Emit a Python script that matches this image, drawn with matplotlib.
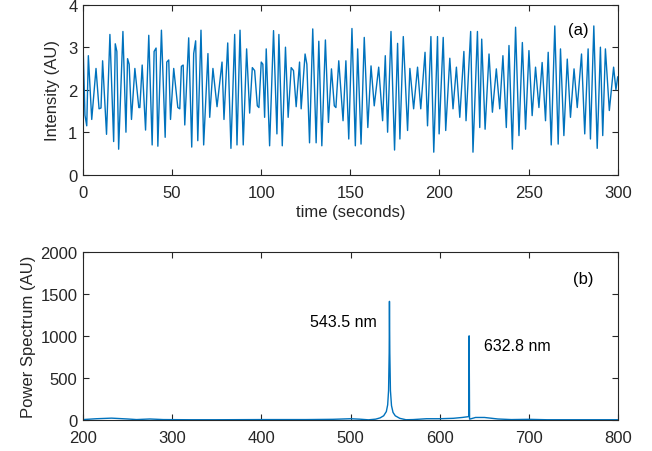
import matplotlib
matplotlib.use("Agg")
import matplotlib.pyplot as plt

plt.rcParams["font.family"] = ["Liberation Sans", "DejaVu Sans"]

BLUE = "#0072BD"
DARK = "#262626"

# --- panel (a): detector intensity vs time (extrema) ---
time_s = [0, 1.1, 2.1, 3.0, 4.9, 7.3, 9.0, 10.1, 11.0, 13.2, 15.1, 17.2, 18.1, 19.0,
          20.0, 22.4, 24.1, 25.0, 25.9, 27.2, 29.1, 31.3, 31.9, 33.2, 35.1, 36.9,
          38.8, 39.9, 41.0, 42.0, 44.0, 46.1, 47.0, 48.1, 49.1, 50.9, 53.2, 54.3,
          55.2, 56.2, 57.1, 59.3, 61.0, 62.1, 63.2, 64.4, 66.2, 67.7, 70.1, 71.1,
          72.9, 75.2, 78.0, 79.1, 81.2, 83.0, 85.1, 86.4, 88.1, 89.9, 91.8, 93.5,
          95.0, 96.3, 97.8, 98.7, 100.0, 100.9, 101.9, 102.8, 104.7, 106.9, 108.8,
          109.9, 111.8, 113.6, 115.1, 116.8, 118.1, 119.6, 121.5, 122.4, 124.6,
          125.6, 127.1, 128.9, 130.8, 132.3, 134.0, 136.0, 137.7, 139.4, 141.0,
          141.9, 143.5, 145.9, 147.5, 149.1, 150.9, 152.8, 154.1, 156.0, 157.8,
          159.8, 161.6, 163.4, 165.9, 168.1, 169.6, 170.9, 172.8, 174.8, 176.5,
          177.8, 179.7, 182.1, 183.4, 185.5, 187.7, 189.5, 191.9, 193.3, 195.2,
          196.8, 198.9, 199.8, 202.1, 203.5, 205.8, 207.6, 209.5, 211.4, 213.7,
          214.9, 217.5, 218.8, 221.3, 222.6, 223.7, 225.6, 227.8, 229.7, 231.9,
          233.8, 235.6, 237.5, 239.0, 240.9, 242.7, 244.6, 246.5, 248.3, 250.2,
          252.0, 253.9, 255.8, 257.6, 259.5, 261.0, 262.7, 264.7, 266.6, 267.9,
          269.8, 271.7, 273.5, 275.5, 277.3, 279.7, 281.5, 283.4, 284.7, 286.6,
          288.5, 290.3, 291.6, 293.1, 295.3, 297.7, 299.0, 300.0]
intensity = [3.1, 1.4, 1.15, 2.8, 1.3, 2.5, 1.55, 1.57, 2.68, 0.95, 3.3, 0.78, 3.08, 2.9,
             0.6, 3.37, 1.0, 2.73, 2.6, 1.3, 2.5, 1.58, 1.58, 2.58, 1.05, 3.28,
             0.7, 2.9, 2.98, 0.67, 3.4, 0.88, 2.65, 2.7, 1.3, 2.5, 1.58, 1.55,
             2.55, 2.58, 1.17, 3.22, 0.65, 2.85, 3.15, 0.8, 3.4, 0.7, 2.85, 1.35,
             2.5, 1.6, 2.65, 1.3, 3.1, 0.62, 3.3, 0.7, 3.4, 0.7, 2.96, 1.45,
             2.52, 2.45, 1.62, 1.58, 2.65, 2.6, 1.35, 2.96, 0.68, 3.39, 0.96,
             3.3, 0.68, 3.0, 1.35, 2.52, 2.45, 1.6, 2.65, 1.55, 2.84,
             2.6, 0.75, 3.43, 0.75, 3.14, 0.68, 3.17, 1.23, 2.49, 1.62,
             1.58, 2.68, 1.27, 2.68, 0.84, 3.44, 0.68, 2.96, 0.72, 3.23,
             1.11, 2.56, 1.62, 2.53, 1.27, 2.8, 1.0, 3.37, 0.58, 3.09,
             0.84, 3.25, 1.04, 2.5, 1.55, 2.53, 1.55, 2.88, 1.15, 3.25,
             0.53, 3.25, 0.96, 3.23, 1.04, 2.74, 1.55, 2.53, 1.35, 2.9,
             1.27, 3.37, 0.53, 3.37, 1.11, 3.19, 1.07, 2.84, 1.47, 2.49,
             1.55, 2.8, 1.11, 3.04, 0.6, 3.47, 0.92, 3.11, 1.07, 2.92,
             1.39, 2.53, 1.58, 2.64, 1.27, 2.88, 0.7, 3.5, 0.72, 2.96,
             0.92, 2.72, 1.35, 2.49, 1.58, 2.84, 0.96, 2.96, 0.84, 3.5,
             0.62, 3.0, 0.92, 2.96, 1.51, 2.53, 2.0, 2.3]

# --- panel (b): power spectrum vs wavelength ---
wavelength_nm = [200, 215, 232, 250, 260, 275, 290, 320, 350, 400, 450, 480, 500, 510,
                 520, 528, 533, 537, 540, 541.5, 542.5, 543.2, 543.5, 543.9, 544.6,
                 545.8, 547.5, 550, 555, 562, 570, 585, 600, 615, 625, 632.3, 632.8,
                 633.3, 640, 650, 665, 680, 700, 720, 750, 800]
power = [5, 15, 22, 12, 5, 12, 5, 3, 3, 5, 5, 8, 15, 10,
         2, 10, 25, 50, 100, 180, 350, 800, 1410, 800, 350,
         170, 90, 50, 20, 3, 5, 15, 15, 20, 30, 40, 1000,
         10, 30, 30, 12, 5, 8, 3, 3, 3]

fig = plt.figure(figsize=(6.52, 4.52), dpi=100)
ax1 = fig.add_axes([0.1273, 0.6113, 0.8201, 0.3761])
ax2 = fig.add_axes([0.1273, 0.0686, 0.8210, 0.3723])


def style(ax):
    for s in ax.spines.values():
        s.set_color(DARK)
        s.set_linewidth(0.8)
    ax.tick_params(direction="in", length=4, width=0.8, colors=DARK,
                   labelsize=12, top=True, right=True, pad=4)
    ax.tick_params(axis="x", pad=7.5)


ax1.plot(time_s, intensity, color=BLUE, lw=1.0)
ax1.set_xlim(0, 300)
ax1.set_ylim(0, 4)
ax1.set_xticks([0, 50, 100, 150, 200, 250, 300])
ax1.set_yticks([0, 1, 2, 3, 4])
ax1.set_xlabel("time (seconds)", fontsize=12, color=DARK, labelpad=3)
ax1.set_ylabel("Intensity (AU)", fontsize=12, color=DARK, labelpad=6)
ax1.text(0.926, 0.857, "(a)", transform=ax1.transAxes, fontsize=12,
         ha="center", va="center", color="black")
style(ax1)

ax2.plot(wavelength_nm, power, color=BLUE, lw=1.0)
ax2.set_xlim(200, 800)
ax2.set_ylim(0, 2000)
ax2.set_xticks([200, 300, 400, 500, 600, 700, 800])
ax2.set_yticks([0, 500, 1000, 1500, 2000])
ax2.set_ylabel("Power Spectrum (AU)", fontsize=12, color=DARK, labelpad=3)
ax2.text(529, 1170, "543.5 nm", fontsize=11.5, ha="right", va="center", color="black")
ax2.text(650, 880, "632.8 nm", fontsize=11.5, ha="left", va="center", color="black")
ax2.text(0.935, 0.838, "(b)", transform=ax2.transAxes, fontsize=12,
         ha="center", va="center", color="black")
style(ax2)

fig.savefig("out.png", dpi=100, facecolor="white")
